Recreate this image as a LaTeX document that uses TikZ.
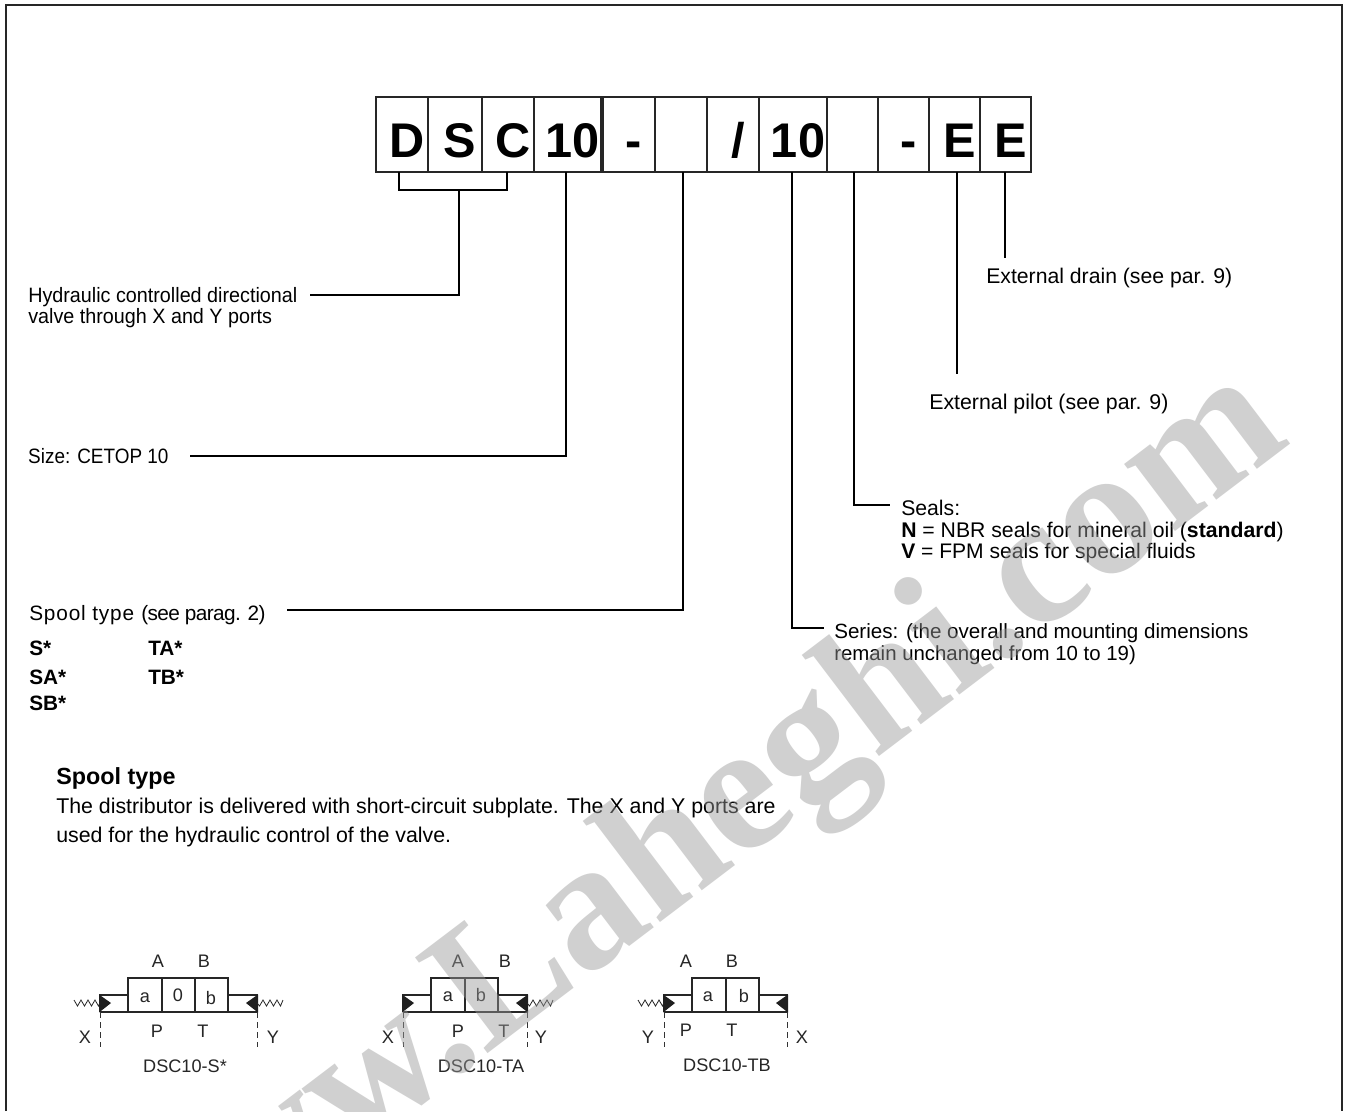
\documentclass[tikz,border=0pt]{standalone}
\usepackage{fontspec}
\setmainfont{Liberation Sans}
\newfontfamily\wmfont{Liberation Serif}
\tikzset{
  frameline/.style={line width=1.6pt,black!85},
  conn/.style={line width=1.05pt,black},
  codebox/.style={draw=black!85,line width=.9pt,inner sep=0pt,minimum height=56.25pt,text height=33.75pt,text depth=0pt,font=\bfseries\fontsize{36.5}{40}\selectfont,text=black},
  lbl/.style={anchor=base west,inner sep=0pt,font=\fontsize{15.6}{18}\selectfont},
  lblb/.style={lbl,font=\bfseries\fontsize{15.6}{18}\selectfont},
  small/.style={anchor=base,inner sep=0pt,font=\fontsize{13.6}{16}\selectfont,text=black!85},
  vbody/.style={line width=1.5pt,black!85},
  vcut/.style={line width=1.5pt,black!85},
  tick/.style={line width=.7pt,black!80,dash pattern=on 4.5pt off 3pt},
  spring/.style={line width=.6pt,black!85},
  solen/.style={fill=black!88,draw=none},
}
\newcommand{\triL}[1]{\fill[solen] (#1-1,994.5) -- (#1+11,1003) -- (#1-1,1012.5) -- cycle;}
\newcommand{\triR}[1]{\fill[solen] (#1+1,994.5) -- (#1-11,1003) -- (#1+1,1012.5) -- cycle;}
\newcommand{\sprL}[1]{\draw[spring] (#1-26,1000) -- (#1-22.5,1006) -- (#1-19,1000) -- (#1-15.5,1006) -- (#1-12,1000) -- (#1-8.5,1006) -- (#1-5,1000) -- (#1-1.5,1006) -- (#1,1003);}
\newcommand{\sprR}[1]{\draw[spring] (#1,1003) -- (#1+2.5,1006) -- (#1+6,1000) -- (#1+9.5,1006) -- (#1+13,1000) -- (#1+16.5,1006) -- (#1+20,1000) -- (#1+23.5,1006) -- (#1+26,1000);}
\begin{document}
\begin{tikzpicture}[x=0.75pt,y=-0.75pt]
\useasboundingbox (0,0) rectangle (1345,1111);
\fill[white] (0,0) rectangle (1345,1111);
% frame
\coordinate (fa) at (6,1111); \coordinate (fb) at (6,5); \coordinate (fc) at (1342,5); \coordinate (fd) at (1342,1111);
\draw[frameline] (fa) -- (fb) -- (fc) -- (fd);
% code boxes
\foreach \nm/\xa/\xb/\tx in {b1/376/428/D,b2/428/482/S,b3/482/534/C,b4/534/601/10,b5/603/655/-,b6/655/707/{},b7/707/759/{/},b8/759/827/10,b9/827/878/{},b10/878/929/-,b11/929/980/E,b12/980/1031/E}{
  \pgfmathsetmacro{\boxw}{(\xb-\xa)*0.75}
  \node[codebox,minimum width=\boxw pt] (\nm) at ({(\xa+\xb)/2},134.5) {\kern7.5pt\tx};
}
% connectors
\coordinate (k1) at (399,172); \coordinate (k2) at (399,190); \coordinate (k3) at (507,190); \coordinate (k4) at (507,172);
\coordinate (k5) at (459,190); \coordinate (k6) at (459,295); \coordinate (k7) at (310,295);
\draw[conn] (k1) -- (k2) -- (k3) -- (k4);
\draw[conn] (k5) -- (k6) -- (k7);
\coordinate (c1) at (566,172); \coordinate (c2) at (566,456); \coordinate (c3) at (190,456);
\draw[conn] (c1) -- (c2) -- (c3);
\coordinate (d1) at (683,172); \coordinate (d2) at (683,610); \coordinate (d3) at (287,610);
\draw[conn] (d1) -- (d2) -- (d3);
\coordinate (e1) at (792,172); \coordinate (e2) at (792,628); \coordinate (e3) at (824,628);
\draw[conn] (e1) -- (e2) -- (e3);
\coordinate (f1) at (854,172); \coordinate (f2) at (854,505); \coordinate (f3) at (890,505);
\draw[conn] (f1) -- (f2) -- (f3);
\coordinate (g1) at (957,172); \coordinate (g2) at (957,374);
\draw[conn] (g1) -- (g2);
\coordinate (h1) at (1005,172); \coordinate (h2) at (1005,258);
\draw[conn] (h1) -- (h2);
% labels
\node[lbl,xscale=.95,transform shape] (t1) at (28,302) {Hydraulic controlled directional};
\node[lbl,xscale=.95,transform shape] (t2) at (28,323) {valve through X and Y ports};
\node[lbl,xscale=.91,transform shape] (t3) at (28,463) {Size: CETOP 10};
\node[lbl] (t4) at (29,620) {{\addfontfeature{LetterSpace=4}Spool type}\hspace{.34em}{\addfontfeature{LetterSpace=-3}(see parag. 2)}};
\node[lblb] (t5) at (29,655) {S*};
\node[lblb] (t6) at (29,684) {SA*};
\node[lblb] (t7) at (29,710) {SB*};
\node[lblb] (t8) at (148,655) {TA*};
\node[lblb] (t9) at (148,684) {TB*};
\node[lblb,font=\bfseries\fontsize{17.5}{18}\selectfont] (t10) at (56,784) {Spool type};
\node[lbl,font=\fontsize{16}{18}\selectfont] (t11) at (56,813) {The distributor is delivered with short-circuit subplate. The X and Y ports are};
\node[lbl,font=\fontsize{16}{18}\selectfont] (t12) at (56,842) {used for the hydraulic control of the valve.};
\node[lbl,font=\fontsize{15.9}{18}\selectfont] (t13) at (986,283) {External drain (see par. 9)};
\node[lbl,font=\fontsize{16}{18}\selectfont] (t14) at (929,409) {External pilot (see par. 9)};
\node[lbl,font=\fontsize{15.9}{18}\selectfont] (t15) at (901,515) {Seals:};
\node[lbl,font=\fontsize{15.9}{18}\selectfont] (t16) at (901,537) {\textbf{N} = NBR seals for mineral oil (\textbf{standard})};
\node[lbl,font=\fontsize{15.8}{18}\selectfont] (t17) at (901,558) {\textbf{V} = FPM seals for special fluids};
\node[lbl,font=\fontsize{15.45}{18}\selectfont] (t18) at (834,638) {Series: (the overall and mounting dimensions};
\node[lbl,font=\fontsize{15.3}{18}\selectfont] (t19) at (834,660) {remain unchanged from 10 to 19)};
% valve S
\draw[vbody] (100,1012) -- (100,995) -- (128,995);
\draw[vbody] (100,1012) -- (257,1012) -- (257,995) -- (228,995);
\draw[vbody] (128,1012) -- (128,978) -- (228,978) -- (228,1012);
\draw[vcut] (162,978) -- (162,1012) (195,978) -- (195,1012);
\triL{100} \triR{257}
\sprL{100} \sprR{257}
\draw[tick] (100,1012) -- (100,1047); \draw[tick] (257,1012) -- (257,1047);
\node[small] (s1) at (158,967) {A}; \node[small] (s2) at (204,967) {B};
\node[small] (s3) at (145,1002) {a}; \node[small] (s4) at (178,1001) {0}; \node[small] (s5) at (211,1004) {b};
\node[small] (s6) at (157,1037) {P}; \node[small] (s7) at (203,1037) {T};
\node[small] (s8) at (85,1043) {X}; \node[small] (s9) at (273,1043) {Y};
\node[small] (s10) at (185,1072) {DSC10-S*};
% valve TA
\draw[vbody] (403,1012) -- (403,995) -- (431,995);
\draw[vbody] (403,1012) -- (527,1012) -- (527,995) -- (498,995);
\draw[vbody] (431,1012) -- (431,978) -- (498,978) -- (498,1012);
\draw[vcut] (465,978) -- (465,1012);
\triL{403} \triR{527}
\sprR{527}
\draw[tick] (403,1012) -- (403,1047); \draw[tick] (527,1012) -- (527,1047);
\node[small] (u1) at (458,967) {A}; \node[small] (u2) at (505,967) {B};
\node[small] (u3) at (448,1001) {a}; \node[small] (u5) at (481,1001) {b};
\node[small] (u6) at (458,1037) {P}; \node[small] (u7) at (504,1037) {T};
\node[small] (u8) at (388,1043) {X}; \node[small] (u9) at (541,1043) {Y};
\node[small] (u10) at (481,1072) {DSC10-TA};
% valve TB
\draw[vbody] (664,1012) -- (664,995) -- (692,995);
\draw[vbody] (664,1012) -- (787,1012) -- (787,995) -- (759,995);
\draw[vbody] (692,1012) -- (692,978) -- (759,978) -- (759,1012);
\draw[vcut] (726,978) -- (726,1012);
\triL{664} \triR{787}
\sprL{664}
\draw[tick] (664,1012) -- (664,1047); \draw[tick] (787,1012) -- (787,1047);
\node[small] (v1) at (686,967) {A}; \node[small] (v2) at (732,967) {B};
\node[small] (v3) at (708,1001) {a}; \node[small] (v5) at (744,1002) {b};
\node[small] (v6) at (686,1036) {P}; \node[small] (v7) at (732,1036) {T};
\node[small] (v8) at (648,1043) {Y}; \node[small] (v9) at (802,1043) {X};
\node[small] (v10) at (727,1071) {DSC10-TB};
% watermark
\node[rotate=37.2,inner sep=0pt,anchor=base west,text=black!40,text opacity=.46,font=\wmfont\bfseries\fontsize{137.5}{140}\selectfont] (wm) at (141,1317) {www.Laheghi.com};
\end{tikzpicture}
\end{document}
